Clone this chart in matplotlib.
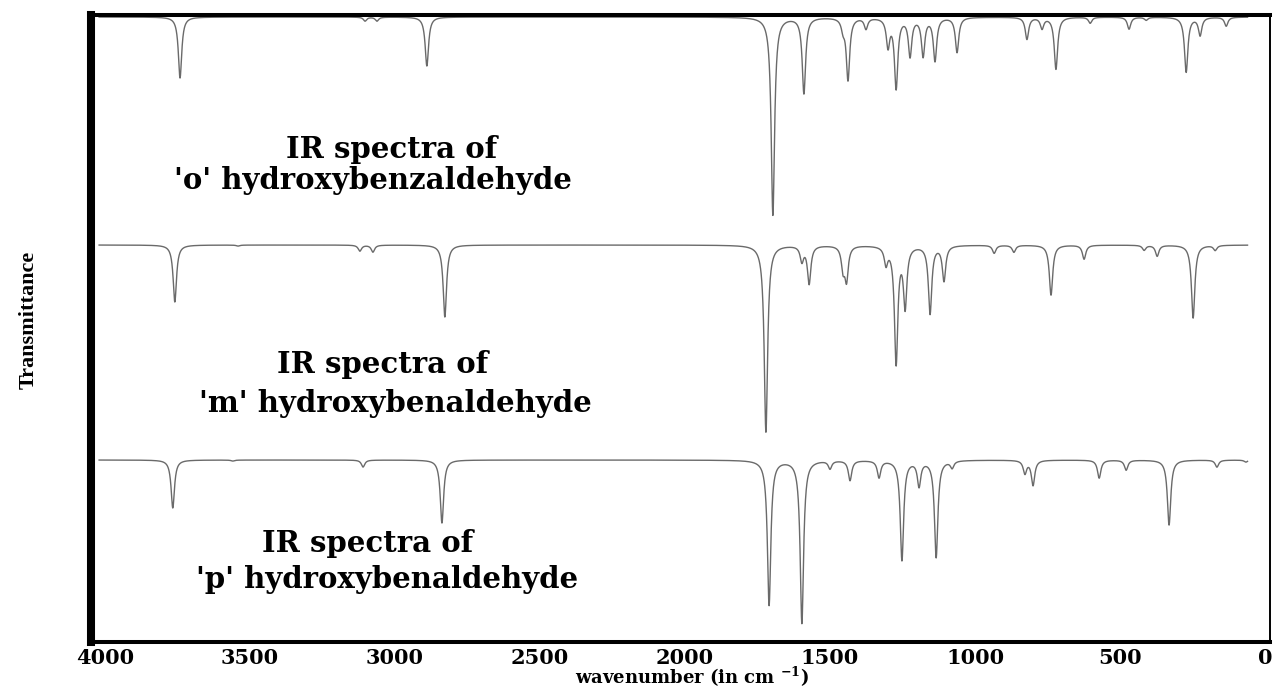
import numpy as np
import matplotlib.pyplot as plt

# peak tables: position (cm-1) and depth (axis units)
o_pos = [3741, 3103, 3062, 2890, 1697, 1590, 1455, 1438, 1376, 1300, 1272,
         1224, 1179, 1138, 1062, 821, 769, 721, 603, 469, 410, 272, 224, 134]
o_depth = [61, 4, 4, 49, 198, 76, 10, 62, 11, 28, 70,
           38, 38, 43, 35, 22, 11, 52, 6, 12, 3, 55, 18, 9]

m_pos = [3759, 3541, 3121, 3076, 2828, 1721, 1597, 1572, 1455, 1443, 1307,
         1272, 1241, 1155, 1107, 934, 866, 738, 624, 417, 372, 248, 172]
m_depth = [57, 1, 6, 7, 72, 187, 15, 38, 22, 33, 17,
           117, 60, 68, 35, 8, 7, 50, 14, 5, 11, 73, 5]

p_pos = [3766, 3559, 3110, 2838, 1710, 1597, 1500, 1431, 1331, 1252, 1193,
         1134, 1079, 828, 800, 572, 479, 331, 166, 66]
p_depth = [48, 1, 7, 63, 145, 163, 8, 20, 17, 100, 25,
           97, 7, 13, 25, 18, 10, 65, 7, 2]

baselines = {'o': 625, 'm': 397, 'p': 182}
half_width = 7  # cm-1

xticks = [4000, 3500, 3000, 2500, 2000, 1500, 1000, 500, 0]

W, H = 1273, 689


def spectrum(x, base, pos, depth):
    y = np.full_like(x, float(base))
    for v, d in zip(pos, depth):
        y -= d / (1 + ((x - v) / half_width) ** 2)
    return y


def main():
    fig = plt.figure(figsize=(W / 100, H / 100), dpi=100)
    ax = fig.add_axes([91 / W, 1 - 642 / H, (1270 - 91) / W, (642 - 15) / H])

    x = np.arange(4020, 60, -0.5)
    for key, pos, depth in [('o', o_pos, o_depth), ('m', m_pos, m_depth), ('p', p_pos, p_depth)]:
        ax.plot(x, spectrum(x, baselines[key], pos, depth), color='#6a6a6a', lw=1.0)

    ax.set_xlim(4048, -17)
    ax.set_ylim(0, 627)
    ax.set_yticks([])
    ax.set_xticks(xticks)
    ax.set_xticklabels([str(t) for t in xticks], family='DejaVu Serif',
                       fontweight='bold', fontsize=15)
    ax.tick_params(axis='x', length=0, pad=4)

    for side, lw in [('left', 5.8), ('top', 2.9), ('bottom', 2.9), ('right', 1.4)]:
        ax.spines[side].set_linewidth(lw)

    fig.text(692 / W, 1 - 684 / H, r'wavenumber (in cm $^{\mathbf{-1}}$)',
             ha='center', va='baseline', family='DejaVu Serif', fontweight='bold', fontsize=13)
    fig.text(29 / W, 1 - 320 / H, 'Transmittance', rotation=90, ha='center', va='center',
             family='Liberation Serif', fontweight='bold', fontsize=16)

    # centre x and baseline y of each caption line, in picture pixels
    labels = [
        (392, 158, 'IR spectra of'),
        (373, 189, "'o' hydroxybenzaldehyde"),
        (383, 373, 'IR spectra of'),
        (395, 412, "'m' hydroxybenaldehyde"),
        (368, 552, 'IR spectra of'),
        (387, 588, "'p' hydroxybenaldehyde"),
    ]
    for px, py, s in labels:
        fig.text(px / W, 1 - py / H, s, ha='center', va='baseline',
                 family='DejaVu Serif', fontweight='bold', fontsize=21)

    fig.savefig('out.png', dpi=100)


if __name__ == "__main__":
    plt.rcParams['mathtext.fontset'] = 'dejavuserif'
    main()
